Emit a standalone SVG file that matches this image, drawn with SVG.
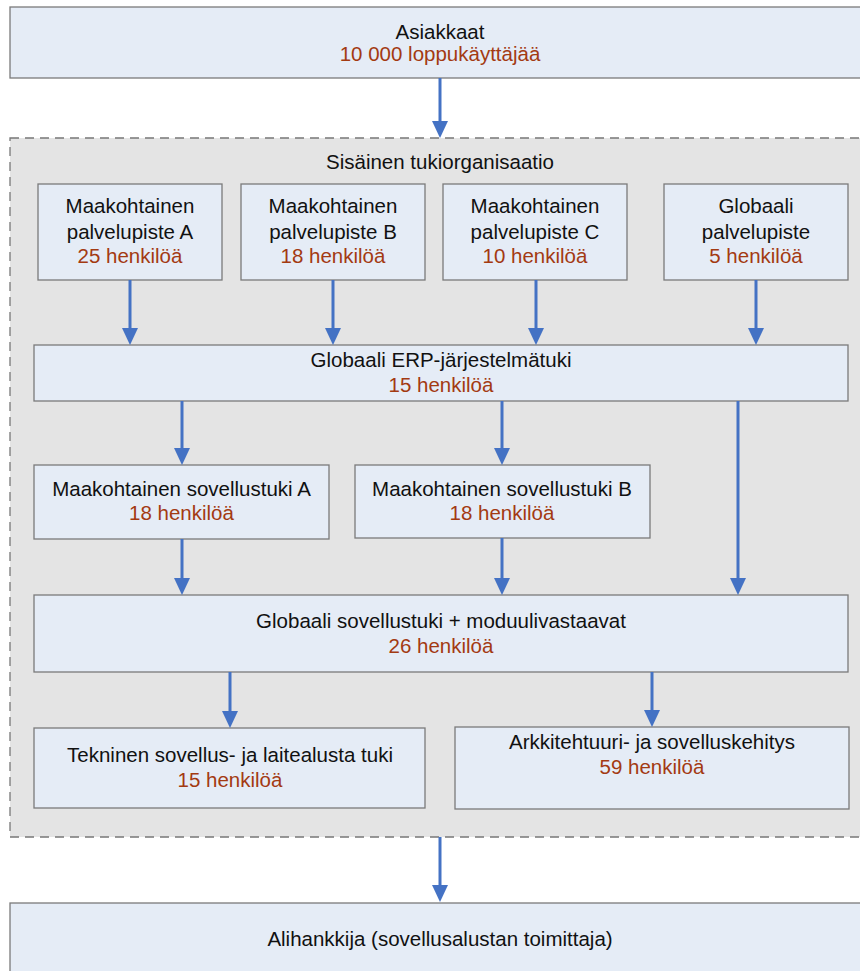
<svg xmlns="http://www.w3.org/2000/svg" width="860" height="971" viewBox="0 0 860 971">
  <style>
    .box { fill: #e5ecf6; stroke: #7a7a7a; stroke-width: 1.3; }
    .group { fill: #e4e4e4; stroke: #777777; stroke-width: 1.3; stroke-dasharray: 9 6; }
    text { font-family: "Liberation Sans", Arial, sans-serif; font-size: 20.5px; text-anchor: middle; fill: #111111; }
    .count { fill: #a33a12; }
    .arrow { stroke: #4472c4; stroke-width: 3; fill: none; marker-end: url(#head); }
  </style>
  <defs>
    <marker id="head" viewBox="0 0 17 16" refX="6" refY="8" markerWidth="17" markerHeight="16" markerUnits="userSpaceOnUse" orient="auto">
      <path d="M0,0 L17,8 L0,16 z" fill="#4472c4"/>
    </marker>
  </defs>

  <rect width="860" height="971" fill="#ffffff"/>

  <g id="asiakkaat">
    <rect class="box" x="10" y="7" width="860" height="71"/>
    <text x="440" y="39">Asiakkaat</text>
    <text class="count" x="440" y="61">10 000 loppukäyttäjää</text>
  </g>

  <g id="sisainen-tukiorganisaatio">
    <rect class="group" x="10" y="138" width="870" height="699"/>
    <text x="440" y="169">Sisäinen tukiorganisaatio</text>
  </g>

  <g id="palvelupiste-a">
    <rect class="box" x="38" y="184" width="184" height="96"/>
    <text x="130" y="213">Maakohtainen</text>
    <text x="130" y="239">palvelupiste A</text>
    <text class="count" x="130" y="263">25 henkilöä</text>
  </g>

  <g id="palvelupiste-b">
    <rect class="box" x="241" y="184" width="184" height="96"/>
    <text x="333" y="213">Maakohtainen</text>
    <text x="333" y="239">palvelupiste B</text>
    <text class="count" x="333" y="263">18 henkilöä</text>
  </g>

  <g id="palvelupiste-c">
    <rect class="box" x="443" y="184" width="184" height="96"/>
    <text x="535" y="213">Maakohtainen</text>
    <text x="535" y="239">palvelupiste C</text>
    <text class="count" x="535" y="263">10 henkilöä</text>
  </g>

  <g id="globaali-palvelupiste">
    <rect class="box" x="664" y="184" width="184" height="96"/>
    <text x="756" y="213">Globaali</text>
    <text x="756" y="239">palvelupiste</text>
    <text class="count" x="756" y="263">5 henkilöä</text>
  </g>

  <g id="erp-tuki">
    <rect class="box" x="34" y="345" width="814" height="56"/>
    <text x="441" y="367">Globaali ERP-järjestelmätuki</text>
    <text class="count" x="441" y="392">15 henkilöä</text>
  </g>

  <g id="sovellustuki-a">
    <rect class="box" x="34" y="465" width="295" height="74"/>
    <text x="181.5" y="496">Maakohtainen sovellustuki A</text>
    <text class="count" x="181.5" y="520">18 henkilöä</text>
  </g>

  <g id="sovellustuki-b">
    <rect class="box" x="355" y="465" width="295" height="73"/>
    <text x="502" y="496">Maakohtainen sovellustuki B</text>
    <text class="count" x="502" y="520">18 henkilöä</text>
  </g>

  <g id="globaali-sovellustuki">
    <rect class="box" x="34" y="595" width="814" height="77"/>
    <text x="441" y="628">Globaali sovellustuki + moduulivastaavat</text>
    <text class="count" x="441" y="653">26 henkilöä</text>
  </g>

  <g id="tekninen-tuki">
    <rect class="box" x="34" y="728" width="391" height="80"/>
    <text x="230" y="762">Tekninen sovellus- ja laitealusta tuki</text>
    <text class="count" x="230" y="787">15 henkilöä</text>
  </g>

  <g id="arkkitehtuuri">
    <rect class="box" x="455" y="727" width="394" height="82"/>
    <text x="652" y="749">Arkkitehtuuri- ja sovelluskehitys</text>
    <text class="count" x="652" y="774">59 henkilöä</text>
  </g>

  <g id="alihankkija">
    <rect class="box" x="10" y="903" width="860" height="80"/>
    <text x="440" y="946">Alihankkija (sovellusalustan toimittaja)</text>
  </g>

  <!-- connectors: each line stops 11px short of the arrow tip -->
  <g id="connectors">
    <line class="arrow" x1="440" y1="78" x2="440" y2="127"/>
    <line class="arrow" x1="130" y1="280" x2="130" y2="334"/>
    <line class="arrow" x1="333" y1="280" x2="333" y2="334"/>
    <line class="arrow" x1="536" y1="280" x2="536" y2="334"/>
    <line class="arrow" x1="756" y1="280" x2="756" y2="334"/>
    <line class="arrow" x1="182" y1="401" x2="182" y2="454"/>
    <line class="arrow" x1="502" y1="401" x2="502" y2="454"/>
    <line class="arrow" x1="738" y1="401" x2="738" y2="584"/>
    <line class="arrow" x1="182" y1="539" x2="182" y2="584"/>
    <line class="arrow" x1="502" y1="538" x2="502" y2="584"/>
    <line class="arrow" x1="230" y1="672" x2="230" y2="717"/>
    <line class="arrow" x1="652" y1="672" x2="652" y2="716"/>
    <line class="arrow" x1="440" y1="837" x2="440" y2="891"/>
  </g>
</svg>
